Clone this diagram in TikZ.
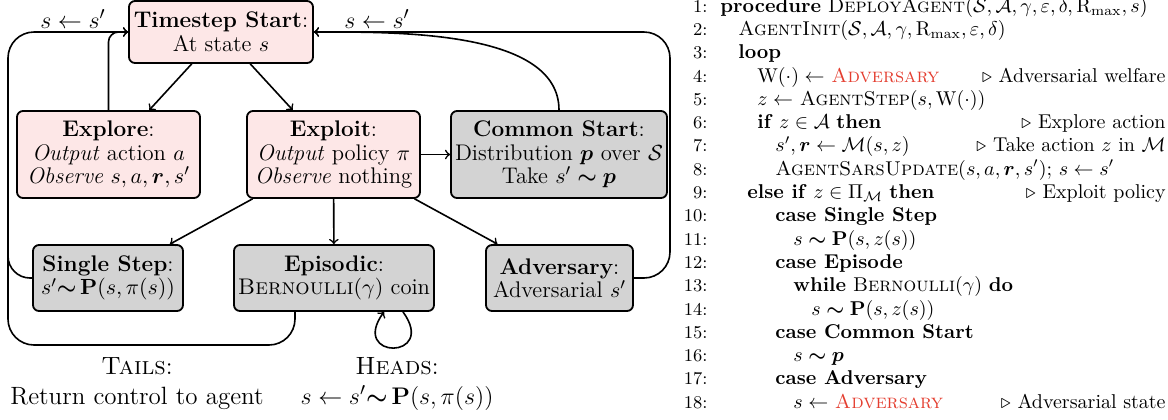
\documentclass[tikz,border=0pt]{standalone}
\usepackage{amsmath,amssymb}

\definecolor{boxpink}{RGB}{253,231,231}
\definecolor{boxgray}{RGB}{211,211,211}
\definecolor{advred}{RGB}{228,62,48}

\tikzset{
  box/.style={draw,line width=0.9pt,rounded corners=3pt,align=center,
    inner xsep=2pt,inner ysep=4pt,font=\fontsize{11.3}{11.8}\selectfont},
  pinkbox/.style={box,fill=boxpink},
  graybox/.style={box,fill=boxgray},
  link/.style={->,thick},
  lbl/.style={font=\fontsize{12.5}{14}\selectfont},
  outcome/.style={align=center,inner sep=0pt,font=\fontsize{12.5}{15}\selectfont},
  lnum/.style={anchor=base east,inner sep=0pt,font=\small},
  algline/.style={anchor=base west,inner sep=0pt},
  cmt/.style={anchor=base east,inner sep=0pt}
}

\begin{document}
\begin{tikzpicture}[x=0.5pt,y=0.5pt,line cap=round,line join=round]
\useasboundingbox (0,0) rectangle (1168,-419);

% the boxes
\node[pinkbox,minimum width=92pt,minimum height=31pt] (start) at (221,-32) {\textbf{Timestep Start}:\\At state $s$};
\node[pinkbox,minimum width=91.5pt,minimum height=43.5pt] (explore) at (108.5,-154.5) {\textbf{Explore}:\\\textit{Output} action $a$\\\textit{Observe} $s,a,\boldsymbol{r},s'$};
\node[pinkbox,minimum width=86.5pt,minimum height=43.5pt] (exploit) at (333.5,-154.5) {\textbf{Exploit}:\\\textit{Output} policy $\pi$\\\textit{Observe} nothing};
\node[graybox,minimum width=101pt,minimum height=43.5pt] (common) at (559,-154.5) {\textbf{Common Start}:\\Distribution $\boldsymbol{p}$ over $\mathcal{S}$\\Take $s'\mathrel{\boldsymbol{\sim}}\boldsymbol{p}$};
\node[graybox,minimum width=75pt,minimum height=33pt] (single) at (108,-278) {\textbf{Single Step}:\\$s'{\boldsymbol{\sim}}\,\mathbf{P}(s,\pi(s))$};
\node[graybox,minimum width=94pt,minimum height=33pt] (episodic) at (334,-278) {\textbf{Episodic}:\\\textsc{Bernoulli}$(\gamma)$ coin};
\node[graybox,minimum width=73.5pt,minimum height=33pt] (adversary) at (559.5,-278) {\textbf{Adversary}:\\Adversarial $s'$};

% corners of the return loops
\coordinate (ltop) at (8,-32);
\coordinate (lmid) at (8,-200);
\coordinate (lbot) at (8,-345);
\coordinate (rtop) at (670,-32);

\draw[link] (start) -- (explore);
\draw[link] (start) -- (exploit);
\draw[link] (exploit) -- (common);
\draw[link] (exploit) -- (single);
\draw[link] (exploit) -- (episodic);
\draw[link] (exploit) -- (adversary);

% back to the start
\draw[link,rounded corners=5pt] (explore.north) |- (start.west);
\draw[link,rounded corners=13pt] ([xshift=-19.5pt]episodic.south) |- (lbot) -- (ltop) -- (start.west);
\draw[thick,rounded corners=11pt] (single.west) -| (lmid);
\draw[link,rounded corners=13pt] (adversary.east) -| (rtop) -- (start.east);
\draw[link] (common.north) to[out=90,in=0,looseness=0.8] (start.east);
\draw[link] ([xshift=34.5pt]episodic.south) .. controls (438,-360) and (349,-360) .. ([xshift=25pt]episodic.south);

\node[lbl] (lback) at (73,-19) {$s\leftarrow s'$};
\node[lbl] (rback) at (377,-19) {$s\leftarrow s'$};
\node[outcome] (tails) at (137,-384) {\textsc{Tails}:\\Return control to agent};
\node[outcome] (heads) at (397,-384) {\textsc{Heads}:\\$s\leftarrow s'{\boldsymbol{\sim}}\,\mathbf{P}(s,\pi(s))$};

% the listing
\foreach \k in {1,...,18}
  \node[lnum] (n\k) at (708,{-12.1-23.3*(\k-1)}) {\k:};

\node[algline] (a1) at (720,0 |- n1.base) {\textbf{procedure} \textsc{DeployAgent}$(\mathcal{S},\mathcal{A},\gamma,\varepsilon,\delta,\mathrm{R}_{\max},s)$};
\node[algline] (a2) at (738,0 |- n2.base) {\textsc{AgentInit}$(\mathcal{S},\mathcal{A},\gamma,\mathrm{R}_{\max},\varepsilon,\delta)$};
\node[algline] (a3) at (738,0 |- n3.base) {\textbf{loop}};
\node[algline] (a4) at (757,0 |- n4.base) {$\mathrm{W}(\cdot)\leftarrow$ \textcolor{advred}{\textsc{Adversary}}};
\node[algline] (a5) at (757,0 |- n5.base) {$z\leftarrow$ \textsc{AgentStep}$(s,\mathrm{W}(\cdot))$};
\node[algline] (a6) at (757,0 |- n6.base) {\textbf{if} $z\in\mathcal{A}$ \textbf{then}};
\node[algline] (a7) at (775,0 |- n7.base) {$s',\boldsymbol{r}\leftarrow\mathcal{M}(s,z)$};
\node[algline] (a8) at (775,0 |- n8.base) {\textsc{AgentSarsUpdate}$(s,a,\boldsymbol{r},s')$; $s\leftarrow s'$};
\node[algline] (a9) at (747,0 |- n9.base) {\textbf{else if} $z\in\Pi_{\mathcal{M}}$ \textbf{then}};
\node[algline] (a10) at (775,0 |- n10.base) {\textbf{case Single Step}};
\node[algline] (a11) at (793,0 |- n11.base) {$s\mathrel{\boldsymbol{\sim}}\mathbf{P}(s,z(s))$};
\node[algline] (a12) at (775,0 |- n12.base) {\textbf{case Episode}};
\node[algline] (a13) at (793,0 |- n13.base) {\textbf{while} \textsc{Bernoulli}$(\gamma)$ \textbf{do}};
\node[algline] (a14) at (811,0 |- n14.base) {$s\mathrel{\boldsymbol{\sim}}\mathbf{P}(s,z(s))$};
\node[algline] (a15) at (775,0 |- n15.base) {\textbf{case Common Start}};
\node[algline] (a16) at (793,0 |- n16.base) {$s\mathrel{\boldsymbol{\sim}}\boldsymbol{p}$};
\node[algline] (a17) at (775,0 |- n17.base) {\textbf{case Adversary}};
\node[algline] (a18) at (793,0 |- n18.base) {$s\leftarrow$ \textcolor{advred}{\textsc{Adversary}}};

% comments
\node[cmt] (c4) at (1166,0 |- n4.base) {$\triangleright$ Adversarial welfare};
\node[cmt] (c6) at (1166,0 |- n6.base) {$\triangleright$ Explore action};
\node[cmt] (c7) at (1166,0 |- n7.base) {$\triangleright$ Take action $z$ in $\mathcal{M}$};
\node[cmt] (c9) at (1166,0 |- n9.base) {$\triangleright$ Exploit policy};
\node[cmt] (c18) at (1166,0 |- n18.base) {$\triangleright$ Adversarial state};
\end{tikzpicture}
\end{document}
